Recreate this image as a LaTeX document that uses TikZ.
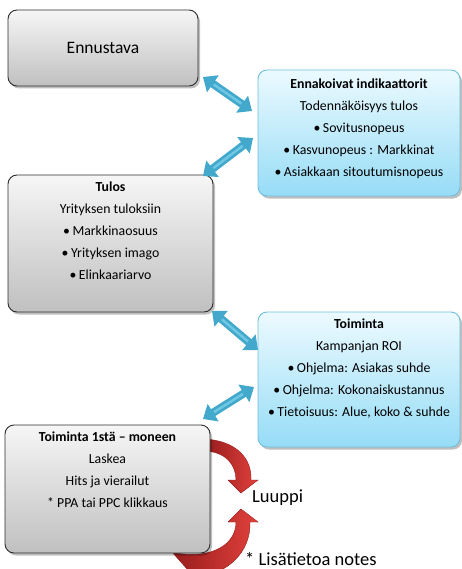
\documentclass[tikz,border=0pt]{standalone}
\usepackage{fontspec}
\setmainfont{Carlito}
\usetikzlibrary{arrows.meta,shadows}
\definecolor{grayT}{RGB}{246,246,246}
\definecolor{grayB}{RGB}{192,192,192}
\definecolor{grayE}{RGB}{45,45,45}
\definecolor{blueT}{RGB}{236,250,255}
\definecolor{blueB}{RGB}{150,220,246}
\definecolor{blueE}{RGB}{112,190,220}
\definecolor{aqua}{RGB}{66,168,204}
\definecolor{aquaL}{RGB}{110,200,228}
\definecolor{redD}{RGB}{150,28,28}
\definecolor{redL}{RGB}{225,65,60}
\newcommand{\bul}{\textbullet\kern2.5pt}
\tikzset{
  boxbase/.style={rectangle, rounded corners=9pt, line width=0.9pt,
    drop shadow={shadow xshift=2pt, shadow yshift=-2.5pt, fill=black, opacity=0.25}},
  graybox/.style={boxbase, draw=grayE, top color=grayT, bottom color=grayB},
  bluebox/.style={boxbase, draw=blueE, top color=blueT, bottom color=blueB},
  boxtext/.style={align=center, inner sep=0pt, anchor=north, font=\fontsize{13.8}{22}\selectfont},
  dblarrow/.style={line width=8pt, draw=aqua,
    {Triangle[width=20pt,length=12pt]}-{Triangle[width=20pt,length=12pt]}},
  dblhi/.style={line width=2.5pt, draw=aquaL, shorten <=13pt, shorten >=13pt},
  redarrow/.style={left color=redD, right color=redL, draw=redD, line width=0.4pt},
  bigtext/.style={font=\fontsize{18.5}{20}\selectfont, inner sep=0pt, anchor=base west}
}
\begin{document}
\begin{tikzpicture}[x=1pt,y=-1pt]
\useasboundingbox (0,0) rectangle (462,569);
\clip (0,0) rectangle (462,569);

% red loop arrows
\path[redarrow] (205,439) .. controls (236,441) and (252,458) .. (251,480)
  -- (258,480) -- (241,493) -- (228,480) -- (236,480)
  .. controls (236,465) and (226,452) .. (205,451) -- cycle;
\path[redarrow] (241,509) -- (258,522) -- (250,522)
  .. controls (251,552) and (228,574) .. (195,578) -- (172,552)
  .. controls (205,560) and (236,548) .. (236,522) -- (228,522) -- cycle;

% boxes
\node[graybox, minimum width=190pt, minimum height=76pt] (ennustava) at (103,48) {};
\node[bluebox, minimum width=202pt, minimum height=126pt] (ennakoivat) at (359,133) {};
\node[graybox, minimum width=205pt, minimum height=137pt] (tulos) at (110.5,243.5) {};
\node[bluebox, minimum width=202pt, minimum height=135pt] (toiminta) at (359,379.5) {};
\node[graybox, minimum width=205pt, minimum height=128pt] (toim1) at (107.5,489) {};

% texts
\node[font=\fontsize{17.5}{19}\selectfont, inner sep=0pt] (ennustavaT) at (ennustava.center) {Ennustava};
\node[boxtext] (ennakoivatT) at ([yshift=-9pt]ennakoivat.north)
  {\textbf{Ennakoivat indikaattorit}\\Todennäköisyys tulos\\\bul Sovitusnopeus\\\bul Kasvunopeus : Markkinat\\\bul Asiakkaan sitoutumisnopeus};
\node[boxtext] (tulosT) at ([yshift=-7pt]tulos.north)
  {\textbf{Tulos}\\Yrityksen tuloksiin\\\bul Markkinaosuus\\\bul Yrityksen imago\\\bul Elinkaariarvo};
\node[boxtext] (toimintaT) at ([yshift=-7pt]toiminta.north)
  {\textbf{Toiminta}\\Kampanjan ROI\\\bul Ohjelma: Asiakas suhde\\\bul Ohjelma: Kokonaiskustannus\\\bul Tietoisuus: Alue, koko \& suhde};
\node[boxtext] (toim1T) at ([yshift=-7pt]toim1.north)
  {\textbf{Toiminta 1stä – moneen}\\Laskea\\Hits ja vierailut\\* PPA tai PPC klikkaus};

\node[bigtext] (luuppi) at (252,502) {Luuppi};
\node[bigtext] (lisa) at (245,565) {* Lisätietoa notes};

% blue double arrows
\coordinate (a1s) at (203,77);  \coordinate (a1e) at (252,111);
\coordinate (a2s) at (253,138); \coordinate (a2e) at (203,176);
\coordinate (a3s) at (212,311); \coordinate (a3e) at (258,350);
\coordinate (a4s) at (254,387); \coordinate (a4e) at (203,419);
\foreach \s/\e in {a1s/a1e, a2s/a2e, a3s/a3e, a4s/a4e}{
  \draw[dblarrow] (\s) -- (\e);
  \draw[dblhi] (\s) -- (\e);
}
\end{tikzpicture}
\end{document}
